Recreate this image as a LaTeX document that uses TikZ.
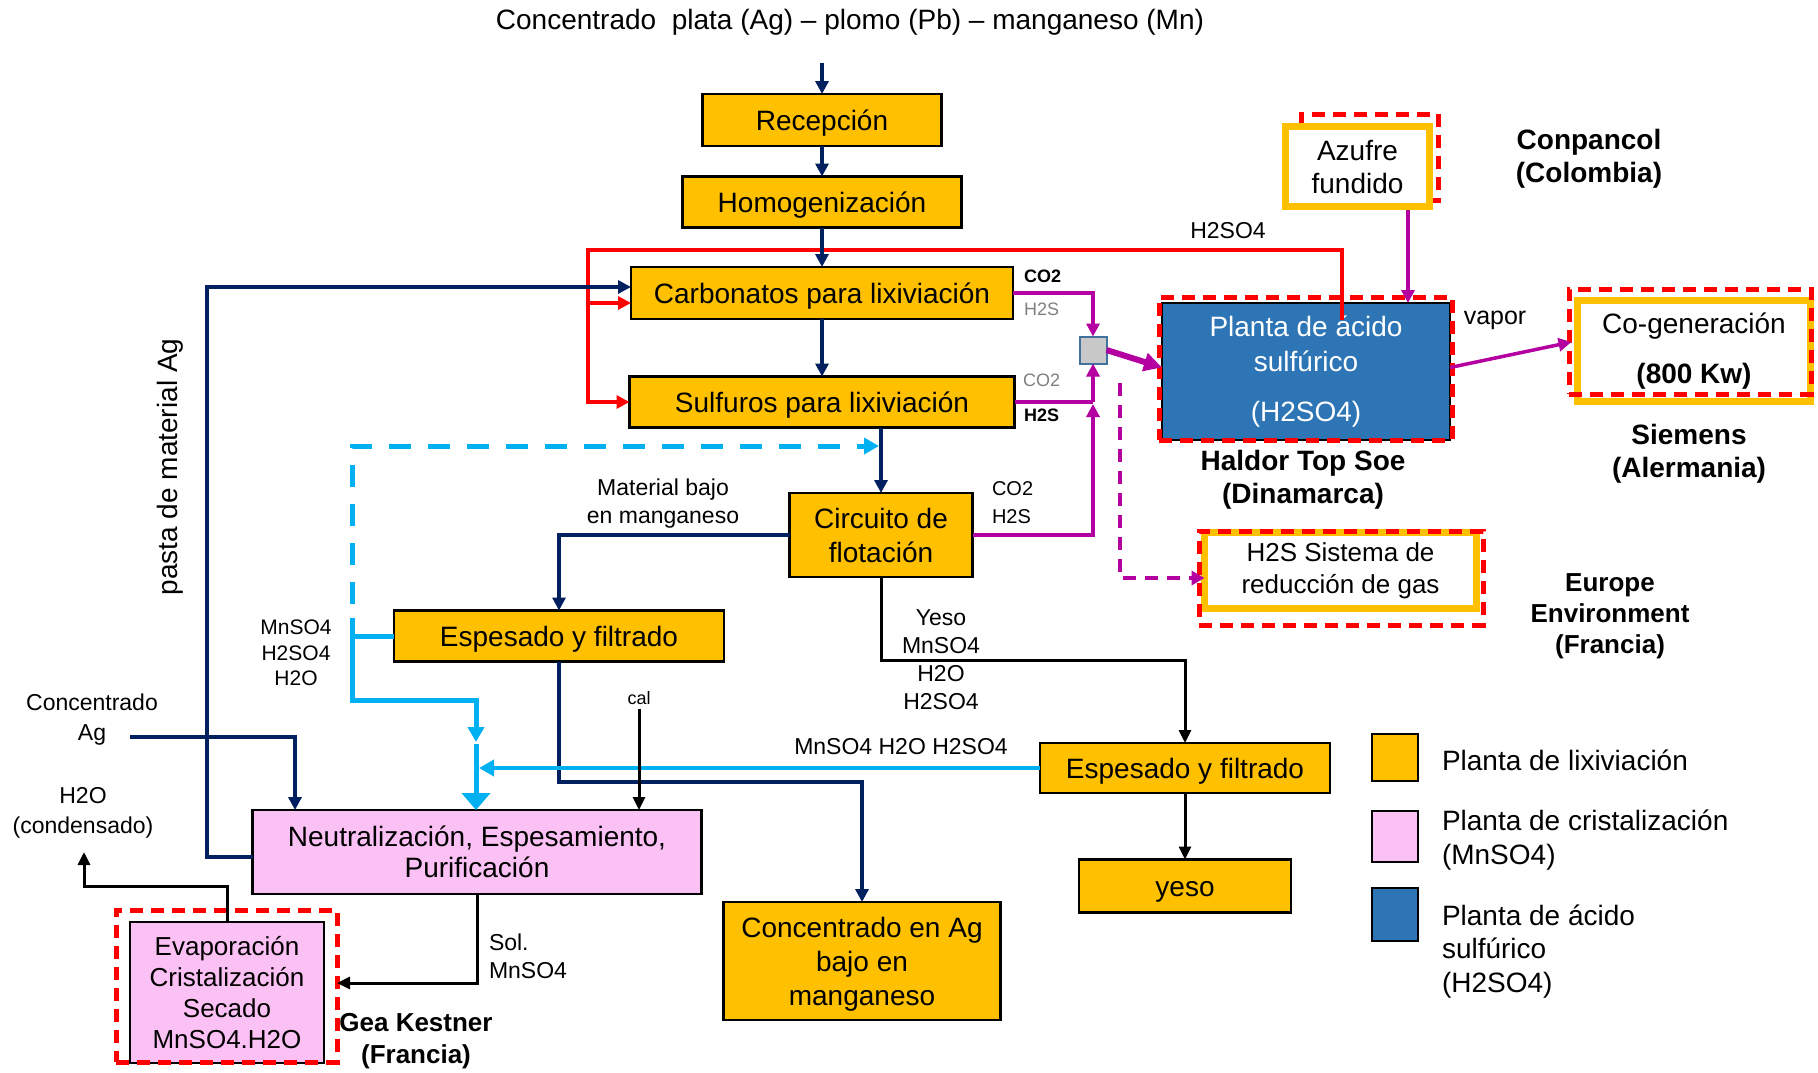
\documentclass[tikz,border=0pt]{standalone}
\usepackage{fontspec}
\setmainfont{Liberation Sans}
\usetikzlibrary{arrows.meta,calc}

\definecolor{leach}{RGB}{255,192,0}
\definecolor{cryst}{RGB}{251,192,244}
\definecolor{acid}{RGB}{46,117,182}
\definecolor{navy}{RGB}{0,32,96}
\definecolor{hot}{RGB}{255,0,0}
\definecolor{gasline}{RGB}{180,0,160}
\definecolor{liquor}{RGB}{0,176,240}
\definecolor{mixer}{RGB}{200,200,200}
\definecolor{mixedge}{RGB}{65,113,156}
\definecolor{faint}{RGB}{128,128,128}

\newcommand\pxfont[2]{\fontsize{#1}{#2}\selectfont}

\begin{document}
\begin{tikzpicture}[x=0.5pt,y=-0.5pt,
  every node/.style={inner sep=0pt, outer sep=0pt},
  box/.style={rectangle, draw=black, line width=1.2pt, align=center, font=\pxfont{14}{17}},
  leachbox/.style={box, fill=leach},
  oneline/.style={text height=10pt, text depth=0pt},
  crystbox/.style={box, fill=cryst},
  acidbox/.style={box, fill=acid, text=white},
  vendorbox/.style={rectangle, draw=leach, line width=3.5pt, fill=white, align=center, font=\pxfont{14}{16.5}},
  scopeframe/.style={rectangle, draw=hot, line width=2.5pt, dash pattern=on 6.5pt off 4pt},
  lbl/.style={align=center, font=\pxfont{11.5}{14}},
  firm/.style={align=center, font=\bfseries\pxfont{14}{16.5}},
  navyflow/.style={draw=navy, line width=2.2pt, -{Triangle[length=6.5pt,width=6.5pt]}},
  redflow/.style={draw=hot, line width=1.75pt, -{Triangle[length=6.5pt,width=6.5pt]}},
  gasflow/.style={draw=gasline, line width=1.75pt, -{Triangle[length=6.5pt,width=6.5pt]}},
  gasdash/.style={draw=gasline, line width=2pt, dash pattern=on 6.5pt off 4.5pt, -{Triangle[length=6.5pt,width=7pt]}},
  blackflow/.style={draw=black, line width=1.5pt, -{Triangle[length=6.5pt,width=6pt]}},
  liqflow/.style={draw=liquor, line width=2.5pt, -{Triangle[length=7.5pt,width=8pt]}},
  liqline/.style={draw=liquor, line width=2.5pt},
  liqbig/.style={draw=liquor, line width=2.5pt, -{Triangle[length=8.5pt,width=14pt]}},
  liqdash/.style={draw=liquor, line width=2.5pt, dash pattern=on 11pt off 8.5pt, -{Triangle[length=7.5pt,width=8pt]}}
]
\useasboundingbox (0,0) rectangle (1818,1072);
\fill[white] (0,0) rectangle (1818,1072);

% ---------- process boxes (leaching plant)
\node[leachbox, oneline, minimum width=119.5pt, minimum height=26pt] (recep) at (822,120) {Recepción};
\node[leachbox, oneline, minimum width=139.5pt, minimum height=25.5pt] (homog) at (822,202) {Homogenización};
\node[leachbox, oneline, minimum width=191pt, minimum height=26pt] (carb) at (822,293) {Carbonatos para lixiviación};
\node[leachbox, oneline, minimum width=192.5pt, minimum height=25.5pt] (sulf) at (822,402) {Sulfuros para lixiviación};
\node[leachbox, minimum width=91.5pt, minimum height=42pt] (circ) at (881,535) {Circuito de\\flotación};
\node[leachbox, oneline, minimum width=165pt, minimum height=25.5pt] (esp1) at (559,636) {Espesado y filtrado};
\node[leachbox, oneline, minimum width=145pt, minimum height=25pt] (esp2) at (1185,768) {Espesado y filtrado};
\node[leachbox, oneline, minimum width=106pt, minimum height=26.5pt] (yeso) at (1185,886) {yeso};
\node[leachbox, minimum width=138.5pt, minimum height=59pt,
      label={[align=center, font=\pxfont{14}{17}, yshift=-1.5pt]center:Concentrado en Ag\\bajo en\\manganeso}] (conc) at (862,961) {};

% ---------- crystallisation plant
\node[crystbox, minimum width=224.5pt, minimum height=42pt, font=\pxfont{14}{15.5}] (neut) at (477,852) {Neutralización, Espesamiento,\\Purificación};
\node[crystbox, minimum width=97pt, minimum height=70.5pt, font=\pxfont{13}{15.5}] (evap) at (227,992.5) {Evaporación\\Cristalización\\Secado\\MnSO4.H2O};
\node[scopeframe, minimum width=110.5pt, minimum height=76pt] (evapfr) at (226.5,986) {};

% ---------- sulfuric acid plant and suppliers
\node[acidbox, minimum width=144pt, minimum height=68.5pt, font=\pxfont{14}{17.5}] (planta) at (1306,371.5) {Planta de ácido\\sulfúrico\\[7.5pt](H2SO4)};
\node[scopeframe, minimum width=146.5pt, minimum height=71.5pt] (plantafr) at (1305.5,368.5) {};

\node[scopeframe, minimum width=68.5pt, minimum height=43pt] (azfr) at (1369.5,157) {};
\node[vendorbox, minimum width=72pt, minimum height=40pt] (azufre) at (1357.5,166.5) {Azufre\\fundido};

\node[vendorbox, minimum width=116.5pt, minimum height=50.5pt, font=\pxfont{14}{17}] (cogen) at (1694,351) {Co-generación\\[8pt]\textbf{(800 Kw)}};
\node[scopeframe, minimum width=121pt, minimum height=52.5pt] (cogenfr) at (1690,341.5) {};

\node[vendorbox, minimum width=136pt, minimum height=38pt, font=\pxfont{13}{16}] (h2s) at (1340.5,570.5) {H2S Sistema de\\reducción de gas};
\node[scopeframe, minimum width=142pt, minimum height=47pt] (h2sfr) at (1341,578) {};

\node[draw=mixedge, fill=mixer, line width=1pt, minimum size=13.5pt] (mix) at (1093,350) {};

% ---------- texts
\node[font=\pxfont{14}{17}] (title) at (850,22) {Concentrado\ \ plata (Ag) – plomo (Pb) – manganeso (Mn)};
\node[lbl] (acidlbl) at (1228,231) {H2SO4};
\node[anchor=west, font=\bfseries\pxfont{9}{11}] (co2a) at (1024,276) {CO2};
\node[anchor=west, font=\pxfont{9}{11}, text=faint] (h2sa) at (1024,309) {H2S};
\node[anchor=west, font=\pxfont{9}{11}, text=faint] (co2b) at (1023,380) {CO2};
\node[anchor=west, font=\bfseries\pxfont{9}{11}] (h2sb) at (1024,415) {H2S};
\node[anchor=west, align=left, font=\pxfont{10}{14}] (co2c) at (992,503) {CO2\\H2S};
\node[lbl] (lowmn) at (663,504) {Material bajo\\en manganeso};
\node[lbl, font=\pxfont{10.5}{12.75}] (liqlbl) at (296,653) {MnSO4\\H2SO4\\H2O};
\node[lbl] (gypsumlbl) at (941,660) {Yeso\\MnSO4\\H2O\\H2SO4};
\node[lbl] (returnlbl) at (901,747) {MnSO4 H2O H2SO4};
\node[font=\pxfont{9}{11}] (cal) at (639,698) {cal};
\node[lbl, font=\pxfont{11.5}{15}] (agin) at (92,720) {Concentrado\\Ag};
\node[lbl, font=\pxfont{11.5}{15}] (h2olbl) at (83,813) {H2O\\(condensado)};
\node[anchor=west, align=left, font=\pxfont{11.5}{14}] (sollbl) at (489,956) {Sol.\\MnSO4};
\node[rotate=90, font=\pxfont{14}{17}] (pastalbl) at (170,467) {pasta de material Ag};
\node[font=\pxfont{12.5}{15}] (vaporlbl) at (1495,320) {vapor};
\node[firm] (conpancol) at (1589,158.5) {Conpancol\\(Colombia)};
\node[firm] (siemens) at (1689,453.5) {Siemens\\(Alermania)};
\node[firm] (haldor) at (1303,480) {Haldor Top Soe\\(Dinamarca)};
\node[firm, font=\bfseries\pxfont{13}{15.5}] (europe) at (1610,616) {Europe\\Environment\\(Francia)};
\node[firm, font=\bfseries\pxfont{13}{16}] (gea) at (416,1041) {Gea Kestner\\(Francia)};

% ---------- legend
\node[box, fill=leach, minimum width=23pt, minimum height=23.5pt] (keyleach) at (1395,757.5) {};
\node[box, fill=cryst, line width=0.8pt, minimum width=23pt, minimum height=25.5pt] (keycryst) at (1395,836.5) {};
\node[box, fill=acid, minimum width=23pt, minimum height=26.5pt] (keyacid) at (1395,914.5) {};
\node[anchor=west, align=left, font=\pxfont{14}{17}] (keyleachtxt) at (1442,760) {Planta de lixiviación};
\node[anchor=west, align=left, font=\pxfont{14}{17}] (keycrysttxt) at (1442,840) {Planta de cristalización\\(MnSO4)};
\node[anchor=west, align=left, font=\pxfont{14}{16.75}] (keyacidtxt) at (1442,951.5) {Planta de ácido\\sulfúrico\\(H2SO4)};

% ---------- sulfuric acid return (red)
\coordinate (acidout) at (1342,320);
\coordinate (redTR) at (1342,250);
\coordinate (redTL) at (588,250);
\coordinate (redmid) at (588,303);
\draw[redflow] (acidout) -- (redTR) -- (redTL) |- (sulf.west);
\draw[redflow] (redmid) -- (redmid -| carb.west);

% ---------- main solids line (navy)
\coordinate (feed) at (822,63);
\draw[navyflow] (feed) -- (recep.north);
\draw[navyflow] (recep.south) -- (homog.north);
\draw[navyflow] (homog.south) -- (carb.north);
\draw[navyflow] (carb.south) -- (sulf.north);
\draw[navyflow] (sulf.south -| circ.north) -- (circ.north);
\draw[navyflow] (circ.west) -| (esp1.north);
\coordinate (concturn) at (862,782);
\draw[navyflow] (esp1.south) |- (concturn) -- (conc.north);
\coordinate (pastaL) at (207,857);
\coordinate (pastaT) at (207,287);
\draw[navyflow] ($(neut.west)+(0,5)$) -- (pastaL) -- (pastaT) -- (pastaT -| carb.west);
\coordinate (aginEnd) at (130,737);
\coordinate (agdrop) at (295,737);
\draw[navyflow] (aginEnd) -- (agdrop) -- (agdrop |- neut.north);

% ---------- gases (magenta)
\coordinate (gasjoin) at (sulf.east -| mix.south);
\draw[gasflow] (carb.east) -| (mix.north);
\draw[draw=gasline, line width=1.75pt] (sulf.east) -- (gasjoin);
\draw[gasflow] (circ.east) -| ($(gasjoin)+(0,2)$);
\draw[gasflow] (gasjoin) -- (mix.south);
\draw[gasflow, line width=3pt, -{Triangle[length=9pt,width=9pt]}] (mix.east) -- ($(planta.west)+(0,-4)$);
\coordinate (azdrop) at (1408,210);
\draw[gasflow] (azdrop) -- (azdrop |- planta.north);
\draw[gasflow] ($(planta.east)+(0,-4)$) -- ($(cogen.west)+(-6,-9)$);
\coordinate (dashtop) at (1120,383);
\draw[gasdash] (dashtop) |- ($(h2s.west)+(0,7.5)$);

% ---------- liquors (cyan)
\coordinate (recyT) at (352,604);
\coordinate (recyTip) at (879,446);
\draw[liqdash] (recyT) |- (recyTip);
\coordinate (liqTop) at (352,618);
\coordinate (liqCorner) at (352,700);
\coordinate (liqDrop) at (476,700);
\coordinate (liqMeet) at (476,744);
\draw[liqline] (esp1.west) -- (esp1.west -| liqTop);
\draw[liqflow] (liqTop) -- (liqCorner) -- (liqDrop) -- ($(liqMeet)+(0,-2)$);
\draw[draw=liquor, line width=2pt, -{Triangle[length=7.5pt,width=8pt]}] (esp2.west) -- ($(esp2.west -| liqMeet)+(3,0)$);
\draw[liqbig] (liqMeet) -- (liqMeet |- neut.north);

% ---------- black streams
\draw[blackflow] ($(cal.south)+(0,4)$) -- (cal.south |- neut.north);
\coordinate (gypTurn) at (1185,660);
\draw[blackflow] (circ.south) |- (gypTurn) -- (esp2.north);
\draw[blackflow] (esp2.south) -- (yeso.north);
\coordinate (solTurn) at (477,983);
\draw[blackflow] (neut.south) -- (solTurn) -- (solTurn -| evapfr.east);
\coordinate (vapTurnL) at (84,886);
\coordinate (vapEnd) at (84,852);
\draw[blackflow] (evap.north) |- (vapTurnL) -- (vapEnd);

\end{tikzpicture}
\end{document}
